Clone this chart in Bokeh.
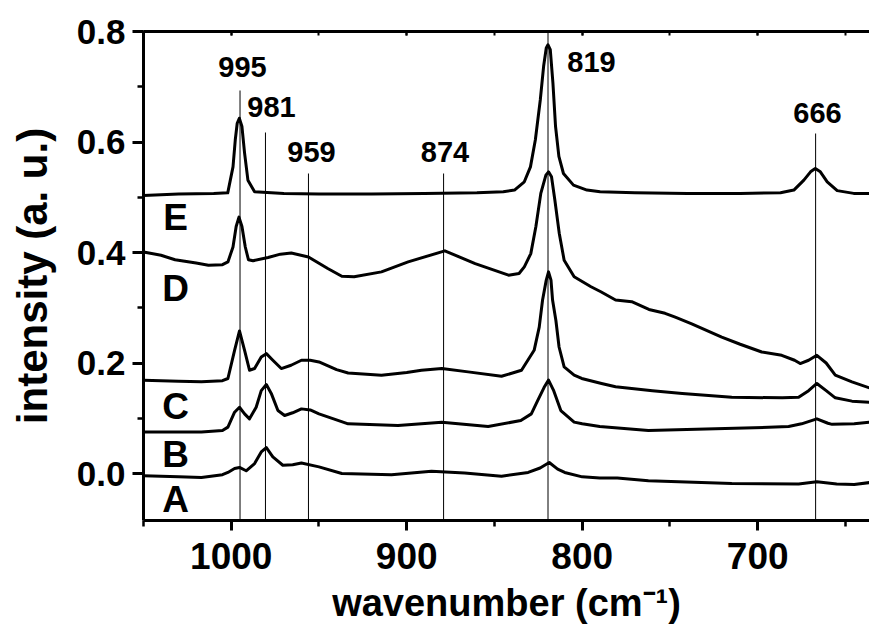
from bokeh.plotting import figure
from bokeh.models import (Range1d, LinearAxis, SingleIntervalTicker, PrintfTickFormatter, Label,
                          CustomJSTickFormatter)
from bokeh.embed import file_html
from bokeh.resources import INLINE

# ---------------- data ----------------
wn_E = [1050, 1030, 1010, 1002, 999, 997.7, 996.6, 995.4, 993.9, 992.4, 990.5, 986.7, 970, 950, 920, 890,
        860, 845, 838.6, 833, 829.5, 826.7, 823.9, 822, 820.5, 819.5, 818.2, 816.7, 815.2, 813.3, 810.7,
        805, 797.3, 789.8, 770, 740, 710, 687, 679.4, 673.7, 669.9, 667.2, 664.3, 660.4, 654.7, 645.3, 635]
int_E = [0.503, 0.506, 0.507, 0.508, 0.555, 0.604, 0.634, 0.643, 0.628, 0.58, 0.531, 0.510, 0.507, 0.506, 0.506, 0.507,
         0.508, 0.510, 0.513, 0.528, 0.555, 0.604, 0.676, 0.737, 0.770, 0.776, 0.767, 0.707, 0.628, 0.574, 0.543,
         0.522, 0.513, 0.510, 0.508, 0.507, 0.507, 0.508, 0.513, 0.531, 0.546, 0.552, 0.546, 0.528, 0.512, 0.507, 0.507]

wn_D = [1050, 1040, 1032, 1020, 1013, 1005, 1001.9, 999, 997.2, 995.6, 993.9, 992, 990.2, 987.6, 979, 972,
        965.8, 956, 945, 937, 930, 914.4, 899.2, 878.3, 861, 842, 836, 833, 829.3, 826.4, 823.6, 820.7,
        819.2, 817.5, 815.6, 813.1, 810.3, 804.6, 795, 789.4, 781, 771.8, 762, 752.8, 747, 737.6, 720.5,
        710, 697.7, 686.3, 679, 675.8, 671, 666.3, 661, 655.8, 646.3, 635.5]
int_D = [0.401, 0.395, 0.387, 0.381, 0.377, 0.378, 0.383, 0.410, 0.447, 0.464, 0.447, 0.410, 0.387, 0.385, 0.391, 0.397,
         0.399, 0.392, 0.371, 0.357, 0.356, 0.365, 0.383, 0.403, 0.380, 0.359, 0.362, 0.374, 0.398, 0.447, 0.507, 0.540,
         0.546, 0.537, 0.495, 0.435, 0.386, 0.356, 0.338, 0.329, 0.314, 0.311, 0.297, 0.290, 0.283, 0.271, 0.247,
         0.234, 0.220, 0.214, 0.205, 0.199, 0.205, 0.214, 0.200, 0.178, 0.166, 0.154]

wn_C = [1050, 1030, 1017, 1005, 1001.9, 998.1, 995.3, 992.4, 989.6, 986.7, 982.9, 980, 976.3, 971.5, 965.9, 960,
        955, 950, 940, 933.4, 914.4, 900, 891.6, 880, 865, 846, 834.6, 827.4, 824.5, 822.6, 820.5, 819.2,
        817.8, 816.9, 815, 813.2, 810.3, 804.6, 800.3, 789, 781, 760, 743, 714.8, 686, 676.7, 671, 666.3,
        661, 655.8, 646.3, 635.5]
int_C = [0.169, 0.167, 0.166, 0.168, 0.172, 0.223, 0.258, 0.223, 0.187, 0.190, 0.211, 0.217, 0.205, 0.190, 0.196, 0.205,
         0.205, 0.202, 0.188, 0.182, 0.178, 0.183, 0.187, 0.190, 0.184, 0.176, 0.187, 0.223, 0.265, 0.314, 0.350, 0.365,
         0.350, 0.314, 0.277, 0.229, 0.193, 0.178, 0.172, 0.163, 0.157, 0.150, 0.145, 0.138, 0.137, 0.138, 0.150, 0.163,
         0.150, 0.137, 0.131, 0.129]

wn_B = [1050, 1030, 1017, 1005, 1001.9, 998.1, 995.3, 992.4, 989.6, 985.8, 982.9, 980, 977.2, 973.4, 969.6, 965,
        960, 955, 950, 933.4, 905, 880, 853.6, 835, 829, 825.4, 821.7, 819.2, 816.4, 812.2, 804.6, 800, 790,
        762.3, 724, 690, 682.4, 675, 666.3, 660, 657.6, 645, 635.5]
int_B = [0.075, 0.075, 0.075, 0.078, 0.084, 0.111, 0.120, 0.108, 0.099, 0.120, 0.150, 0.161, 0.145, 0.114, 0.105, 0.110,
         0.117, 0.115, 0.108, 0.090, 0.087, 0.093, 0.085, 0.096, 0.108, 0.132, 0.156, 0.169, 0.151, 0.114, 0.093, 0.090, 0.085,
         0.078, 0.081, 0.084, 0.085, 0.090, 0.099, 0.091, 0.089, 0.090, 0.093]

wn_A = [1050, 1030, 1017, 1005, 1001.9, 998.1, 995.3, 991.5, 986.7, 982.9, 980, 976.3, 970.6, 965, 960, 950,
        937, 908.7, 885.9, 867, 846, 830.8, 824, 818.8, 814, 810, 800, 790, 780, 762.3, 714.8, 676.7, 666.3,
        655, 645, 635.5]
int_A = [-0.004, -0.006, -0.007, -0.002, 0.002, 0.009, 0.011, 0.005, 0.018, 0.039, 0.047, 0.030, 0.015, 0.016, 0.019, 0.012,
         0.000, -0.002, 0.004, 0.001, -0.005, 0.002, 0.010, 0.020, 0.008, 0.002, -0.006, -0.008, -0.008, -0.013, -0.018, -0.019, -0.015,
         -0.019, -0.020, -0.016]

spectra = [(wn_A, int_A), (wn_B, int_B), (wn_C, int_C), (wn_D, int_D), (wn_E, int_E)]
series_names = ["A", "B", "C", "D", "E"]

marker_wn = [995, 980.5, 956, 879, 819.5, 667]
marker_labels = ["995", "981", "959", "874", "819", "666"]

x_ticks_major = 100
y_ticks_major = 0.2

# ---------------- figure ----------------
X0, X1 = 1050, 636.3
Y0, Y1 = -0.085, 0.8
FL, FR, FT, FB = 143, 869, 31, 520   # frame edges in canvas pixels

p = figure(width=869, height=632, output_backend="svg", toolbar_location=None,
           x_range=Range1d(X0, X1), y_range=Range1d(Y0, Y1),
           min_border_left=FL, min_border_right=0, min_border_top=FT, min_border_bottom=632 - FB)
p.outline_line_color = None
p.xgrid.visible = False
p.ygrid.visible = False
p.background_fill_color = "white"
p.border_fill_color = "white"

FONT = "Liberation Sans"

# canvas-pixel to data helpers for annotation placement
def dx(px):
    return X0 - (px - FL) * (X0 - X1) / (FR - FL)

def dy(py):
    return Y1 - (py - FT) * (Y1 - Y0) / (FB - FT)

# marker lines
tops = [dy(90), dy(132), dy(173), dy(173), Y1, dy(133)]
p.segment(x0=marker_wn, y0=[Y0] * len(marker_wn), x1=marker_wn, y1=tops,
          line_color="black", line_width=1)

for wn, it in spectra:
    p.line(wn, it, line_color="black", line_width=3, line_join="round", line_cap="round")

# axes
xa = p.xaxis[0]
xa.ticker = SingleIntervalTicker(interval=x_ticks_major, num_minor_ticks=2)
ya = p.yaxis[0]
ya.ticker = SingleIntervalTicker(interval=y_ticks_major, num_minor_ticks=2)
ya.formatter = PrintfTickFormatter(format="%.1f")

for ax in (xa, ya):
    ax.axis_line_width = 3
    ax.axis_line_color = "black"
    ax.major_tick_line_width = 3
    ax.minor_tick_line_width = 2.5
    ax.major_tick_line_color = "black"
    ax.minor_tick_line_color = "black"
    ax.major_tick_in = 0
    ax.minor_tick_in = 0
    ax.major_label_text_font = FONT
    ax.major_label_text_font_style = "bold"
    ax.major_label_text_color = "black"
    ax.axis_label_text_font = FONT
    ax.axis_label_text_font_style = "bold"
    ax.axis_label_text_color = "black"

xa.major_tick_out = 10
xa.minor_tick_out = 6
xa.major_label_text_font_size = "37px"
xa.major_label_standoff = 12
xa.axis_label = "wavenumber (cm\u207b\u00b9)"
xa.axis_label_text_font_size = "38px"
xa.axis_label_standoff = 10

ya.major_tick_out = 11
ya.minor_tick_out = 6
ya.major_label_text_font_size = "35px"
ya.major_label_standoff = 7
ya.axis_label = "intensity (a. u.)"
ya.axis_label_text_font_size = "42px"
ya.axis_label_standoff = 18

top = LinearAxis(ticker=SingleIntervalTicker(interval=x_ticks_major, num_minor_ticks=2),
                 formatter=CustomJSTickFormatter(code="return ''"))
top.axis_line_width = 3
top.major_tick_in = 4
top.major_tick_out = 0
top.minor_tick_in = 4
top.minor_tick_out = 0
top.major_tick_line_width = 2
top.minor_tick_line_width = 2
top.major_label_standoff = 0
p.add_layout(top, "above")

# peak labels (py = baseline in canvas pixels, corrected for the renderer's baseline offset)
peak_px = [(242, 66), (271, 106), (311, 151), (444.5, 151), (591, 61), (817, 112)]
for (px, py), t in zip(peak_px, marker_labels):
    p.add_layout(Label(x=dx(px), y=dy(py), text=t, text_font=FONT, text_font_style="bold",
                       text_font_size="29px", text_align="center", text_baseline="alphabetic",
                       text_color="black"))

# series letters
letter_py = [499, 454, 406, 288, 217]
for name, py in zip(series_names, letter_py):
    p.add_layout(Label(x=dx(175), y=dy(py), text=name, text_font=FONT, text_font_style="bold",
                       text_font_size="37px", text_align="center", text_baseline="alphabetic",
                       text_color="black"))

open("out.html", "w").write(file_html(p, INLINE))
